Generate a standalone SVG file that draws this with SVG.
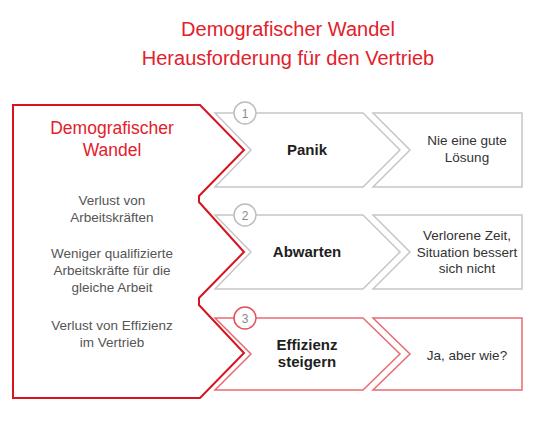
<svg xmlns="http://www.w3.org/2000/svg" width="540" height="423" viewBox="0 0 540 423">
<style>
text{font-family:"Liberation Sans",Arial,sans-serif;text-anchor:middle}
.title{fill:#e3202b;font-size:20px}
.red{fill:#e3202b}
.desc{fill:#555;font-size:13.5px}
.lbl{fill:#1e1e1e;font-size:15px;font-weight:bold}
.res{fill:#333;font-size:13.5px}
.g{fill:#fff;stroke:#c6c6c6;stroke-width:1.5}
.r{fill:#fff;stroke:#ea6a72;stroke-width:1.5}
.cg{fill:#fff;stroke:#bdbdbd;stroke-width:1.5}
.cr{fill:#fff;stroke:#e3505a;stroke-width:1.5}
.num{font-size:12px;fill:#8a8a8a}
</style>
<g id="title">
<text class="title" x="288" y="36">Demografischer Wandel</text>
<text class="title" x="288" y="65">Herausforderung für den Vertrieb</text>
</g>
<g id="row1">
<path class="g" d="M215,113 L363,113 L400,150 L363,187 L215,187 L251,150 Z"/>
<text class="lbl" x="307" y="155">Panik</text>
</g>
<g id="res1">
<path class="g" d="M373,113 L522,113 L522,187 L373,187 L410,150 Z"/>
<text class="res" x="467" y="145">Nie eine gute</text>
<text class="res" x="467" y="162">Lösung</text>
</g>
<g id="row2">
<path class="g" d="M215,215 L363,215 L400,252 L363,289 L215,289 L251,252 Z"/>
<text class="lbl" x="307" y="257">Abwarten</text>
</g>
<g id="res2">
<path class="g" d="M373,215 L522,215 L522,289 L373,289 L410,252 Z"/>
<text class="res" x="467" y="240">Verlorene Zeit,</text>
<text class="res" x="467" y="257">Situation bessert</text>
<text class="res" x="467" y="273">sich nicht</text>
</g>
<g id="row3">
<path class="r" d="M215,318 L363,318 L400,354 L363,390 L215,390 L251,354 Z"/>
<text class="lbl red" x="307" y="350">Effizienz</text>
<text class="lbl red" x="307" y="367">steigern</text>
</g>
<g id="res3">
<path class="r" d="M373,318 L522,318 L522,390 L373,390 L410,354 Z"/>
<text class="res red" x="467" y="360">Ja, aber wie?</text>
</g>
<g id="left">
<path d="M13,105 L200,105 L244,150 L199,196 L199,202 L244,252 L199,298 L199,305 L244,353 L200,398 L13,398 Z" fill="#fff" stroke="#d7141f" stroke-width="2"/>
<text class="red" x="112" y="134" font-size="17.5">Demografischer</text>
<text class="red" x="112" y="156" font-size="17.5">Wandel</text>
<text class="desc" x="112" y="205">Verlust von</text>
<text class="desc" x="112" y="222">Arbeitskräften</text>
<text class="desc" x="112" y="258">Weniger qualifizierte</text>
<text class="desc" x="112" y="275">Arbeitskräfte für die</text>
<text class="desc" x="112" y="292">gleiche Arbeit</text>
<text class="desc" x="112" y="330">Verlust von Effizienz</text>
<text class="desc" x="112" y="347">im Vertrieb</text>
</g>
<g id="num1">
<circle class="cg" cx="245" cy="113" r="11"/>
<text class="num" x="245" y="117.5">1</text>
</g>
<g id="num2">
<circle class="cg" cx="245" cy="215" r="11"/>
<text class="num" x="245" y="219.5">2</text>
</g>
<g id="num3">
<circle class="cr" cx="245" cy="318" r="11"/>
<text class="num red" x="245" y="322.5">3</text>
</g>
</svg>
